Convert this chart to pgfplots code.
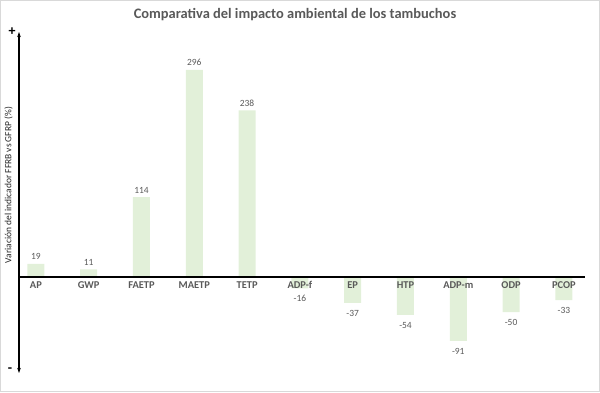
\documentclass[border=0pt]{standalone}
\usepackage{fontspec}
\setmainfont{Carlito}
\usepackage{pgfplots}
\pgfplotsset{compat=1.18}
\usetikzlibrary{arrows.meta}
\definecolor{barg}{HTML}{E2F0D9}
\definecolor{txtg}{HTML}{595959}
\begin{document}
\begin{tikzpicture}[x=1bp,y=1bp]
\useasboundingbox (0,0) rectangle (600,392);
\draw[color=black!15, line width=1bp] (0.5,0.5) rectangle (599.5,391.5);
\node[font=\bfseries\fontsize{14.5}{16}\selectfont, text=txtg] at (295,377) {Comparativa del impacto ambiental de los tambuchos};
\begin{axis}[at={(19bp,19bp)}, anchor=south west, scale only axis, width=566bp, height=341bp,
 xmin=-0.32, xmax=10.4, ymin=-137, ymax=350,
 axis x line=middle, axis y line=none, axis line style={-, line width=1.2bp, black},
 xtick={0,...,10}, xticklabels={AP,GWP,FAETP,MAETP,TETP,ADP-f,EP,HTP,ADP-m,ODP,PCOP},
 major tick length=0pt, ytick=\empty,
 xticklabel style={font=\bfseries\fontsize{10.5}{12}\selectfont, text=txtg, yshift=-3bp, inner sep=1bp},
 ybar, bar width=17bp,
 nodes near coords, nodes near coords align=vertical,
 visualization depends on=rawy\as\rawy,
 /pgf/number format/assume math mode=true,
 every node near coord/.append style={font=\fontsize{9.5}{11}\selectfont, text=txtg, inner sep=1bp,
   yshift={(\rawy<0) ? -6 : 3}},
 clip=false, axis on top]
\addplot[fill=barg, draw=none] coordinates {(0,19) (1,11) (2,114) (3,296) (4,238) (5,-16) (6,-37) (7,-54) (8,-91) (9,-50) (10,-33)};
\draw[{Stealth[length=5bp,width=3.5bp]}-{Stealth[length=5bp,width=3.5bp]}, line width=1.2bp] (axis cs:-0.32,-137) -- (axis cs:-0.32,350);
\end{axis}
\node[rotate=90, font=\fontsize{9.5}{11}\selectfont, text=black!85] at (8.5,207) {Variación del indicador FFRB vs GFRP (\%)};
\node[font=\bfseries\fontsize{14}{16}\selectfont] at (12,360) {+};
\node[font=\bfseries\fontsize{14}{16}\selectfont] at (10,22) {-};
\end{tikzpicture}
\end{document}
